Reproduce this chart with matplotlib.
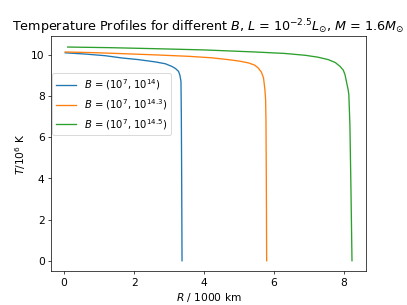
import matplotlib
matplotlib.use('Agg')
import matplotlib.pyplot as plt
import numpy as np

plt.rcParams['font.size'] = 12

# radius in 1000 km, temperature in 10^6 K
r_14 = [0.03, 0.6, 1.17, 1.65, 2.12, 2.6, 2.89, 3.08, 3.18, 3.27, 3.31, 3.34, 3.35, 3.36, 3.37]
T_14 = [10.09, 10.03, 9.95, 9.84, 9.76, 9.65, 9.56, 9.43, 9.33, 9.19, 9.0, 8.70, 7.0, 4.0, 0.0]

r_143 = [0.03, 0.8, 1.65, 2.6, 3.55, 4.2, 4.69, 5.0, 5.27, 5.45, 5.55, 5.64, 5.70, 5.74, 5.76, 5.77, 5.78, 5.79]
T_143 = [10.13, 10.1, 10.05, 9.99, 9.92, 9.85, 9.76, 9.69, 9.6, 9.49, 9.35, 9.15, 8.87, 8.3, 7.8, 6.84, 4.0, 0.0]

r_145 = [0.1, 1.3, 2.6, 4.0, 5.46, 6.3, 6.89, 7.25, 7.55, 7.75, 7.89, 7.98, 8.03, 8.08, 8.12, 8.14, 8.17, 8.20, 8.23]
T_145 = [10.37, 10.34, 10.29, 10.23, 10.13, 10.06, 9.97, 9.88, 9.76, 9.62, 9.43, 9.25, 9.03, 8.62, 8.3, 8.06, 6.6, 3.5, 0.0]

labels = [r'$B$ = $(10^7$, $10^{14})$',
          r'$B$ = $(10^7$, $10^{14.3})$',
          r'$B$ = $(10^7$, $10^{14.5})$']

fig, ax = plt.subplots(figsize=(6.4, 4.8), dpi=63.6)
ax.plot(r_14, T_14, label=labels[0])
ax.plot(r_143, T_143, label=labels[1])
ax.plot(r_145, T_145, label=labels[2])

ax.set_title(r'Temperature Profiles for different $B$, $L$ = $10^{-2.5}L_{\odot}$, $M$ = $1.6M_{\odot}$')
ax.set_xlabel(r'$R$ / 1000 km')
ax.set_ylabel(r'$T/10^6$ K')
ax.legend(loc='upper left', bbox_to_anchor=(0.004, 0.844), borderaxespad=0, fontsize=11.3)

plt.savefig('out.png', dpi=63.6)
